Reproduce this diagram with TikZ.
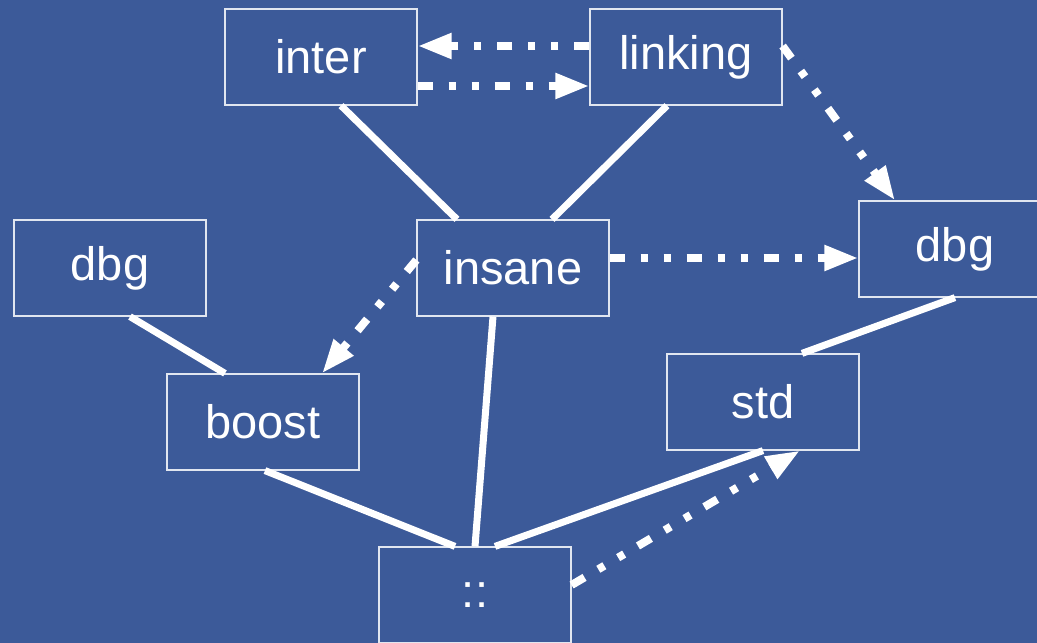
\documentclass[tikz,border=0pt]{standalone}
\usepackage{fontspec}
\setmainfont{Liberation Sans}
\usetikzlibrary{arrows.meta}
\definecolor{bg}{RGB}{60,90,153}
\definecolor{edgec}{RGB}{225,230,240}
\begin{document}
\begin{tikzpicture}[x=1pt,y=1pt,
  box/.style={draw=edgec, line width=1.2pt, minimum width=192pt, minimum height=96pt, inner sep=0pt, text=white, font=\fontsize{47}{52}\selectfont},
  link/.style={draw=white, line width=7pt},
  dep/.style={draw=white, line width=8pt, dash pattern=on 15pt off 16pt on 7pt off 16pt on 7pt off 16pt, -{Triangle[length=34pt,width=24pt]}}]
\fill[bg] (0,0) rectangle (1037,643);
\useasboundingbox (0,0) rectangle (1037,643);
\node[box] (inter) at (321,586) {inter};
\node[box] (linking) at (686,586) {linking};
\node[box] (dbgL) at (110,375) {dbg};
\node[box] (insane) at (513,375) {insane};
\node[box] (dbgR) at (955,394) {dbg};
\node[box] (boost) at (263,221) {boost};
\node[box] (std) at (763,241) {std};
\node[box] (colons) at (475,48) {::};
% solid links
\draw[link] ([xshift=20pt]inter.south) -- ([xshift=-56pt]insane.north);
\draw[link] ([xshift=-19pt]linking.south) -- ([xshift=39pt]insane.north);
\draw[link] ([xshift=20pt]dbgL.south) -- ([xshift=-38pt]boost.north);
\draw[link] ([xshift=-20pt]insane.south) -- (colons.north);
\draw[link] ([xshift=2pt]boost.south) -- ([xshift=-20pt]colons.north);
\draw[link] (std.south) -- ([xshift=20pt]colons.north);
\draw[link] (dbgR.south) -- ([xshift=39pt]std.north);
% dotted dependencies
\draw[dep] ([yshift=11pt]linking.west) -- ([yshift=11pt]inter.east);
\draw[dep] ([yshift=-29pt]inter.east) -- ([yshift=-29pt]linking.west);
\draw[dep] ([yshift=11pt]linking.east) -- ([xshift=-60pt]dbgR.north);
\draw[dep] ([yshift=10pt]insane.east) -- ([yshift=-9pt]dbgR.west);
\draw[dep] ([yshift=8pt]insane.west) -- ([xshift=59pt]boost.north);
\draw[dep] ([yshift=10pt]colons.east) -- ([xshift=37pt]std.south);
\end{tikzpicture}
\end{document}
